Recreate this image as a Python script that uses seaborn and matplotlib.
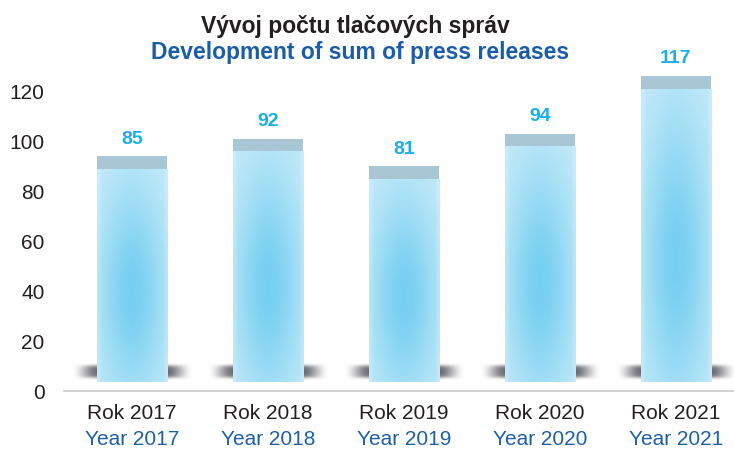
import matplotlib

matplotlib.use("Agg")

import matplotlib.pyplot as plt
import numpy as np
import pandas as pd
import seaborn as sns
from matplotlib.colors import to_rgb

# data
rok_labels = ["Rok 2017", "Rok 2018", "Rok 2019", "Rok 2020", "Rok 2021"]
year_labels = ["Year 2017", "Year 2018", "Year 2019", "Year 2020", "Year 2021"]
press_releases = [85, 92, 81, 94, 117]

sns.set_theme(style="white")
plt.rcParams["font.family"] = ["Liberation Sans", "DejaVu Sans"]

BASE = 3.6   # bars float slightly above the axis in the original
CAP = 5.0    # grey lid on top of each bar
BAR_LIGHT = np.array(to_rgb("#c8ebf9"))
BAR_CORE = np.array(to_rgb("#62c8ef"))
SHADOW = to_rgb("#5a5a60")


def _bar_gradient(n_x: int = 60, n_y: int = 120) -> np.ndarray:
    u = np.linspace(-1, 1, n_x)
    t = np.linspace(0, 1, n_y)
    uu, tt = np.meshgrid(u, t)
    weight = 0.8 * np.exp(-(uu / 0.95) ** 2 - ((tt - 0.42) / 0.5) ** 2)
    weight -= 0.1 * (np.abs(uu) > 0.92)
    weight = np.clip(weight, 0, 1)[..., None]
    return BAR_LIGHT * (1 - weight) + BAR_CORE * weight


def _shadow(half_width: float, bar_half: float, n_x: int = 120, n_y: int = 40) -> np.ndarray:
    dx = np.abs(np.linspace(-half_width, half_width, n_x))
    y = np.linspace(-1, 1, n_y)
    a_x = np.clip((half_width - dx) / (half_width - bar_half), 0, 1)
    a_x = a_x * a_x * (3 - 2 * a_x)
    a_y = np.exp(-(y / 0.62) ** 4)
    alpha = 0.9 * a_y[:, None] * a_x[None, :]
    img = np.zeros((n_y, n_x, 4))
    img[..., :3] = SHADOW
    img[..., 3] = alpha
    return img


df = pd.DataFrame({"rok": rok_labels, "count": press_releases})

fig = plt.figure(figsize=(7.34, 4.52), dpi=100)
ax = fig.add_axes([64 / 734, 1 - 392 / 452, 669 / 734, 331 / 452])

sns.barplot(data=df, x="rok", y="count", width=0.52, color="#c8ebf9",
            saturation=1, errorbar=None, ax=ax, zorder=2)

gradient = _bar_gradient()
shadow_img = _shadow(0.45, 0.25)
for i, patch in enumerate(list(ax.patches)):
    x0, w, h = patch.get_x(), patch.get_width(), patch.get_height()
    cx = x0 + w / 2
    patch.set_y(BASE)
    patch.set_linewidth(0)
    ax.imshow(shadow_img, extent=[cx - 0.45, cx + 0.45, 3.4, 11.6],
              origin="lower", aspect="auto", zorder=1, interpolation="bilinear")
    im = ax.imshow(gradient, extent=[x0, x0 + w, BASE, BASE + h],
                   origin="lower", aspect="auto", zorder=3, interpolation="bilinear")
    im.set_clip_path(patch)
    ax.bar(cx, CAP, width=w, bottom=BASE + h, color="#a9c6d5", linewidth=0, zorder=4)
    ax.annotate(str(press_releases[i]), xy=(cx, BASE + h + CAP), xytext=(0, 7),
                textcoords="offset points", ha="center", va="bottom",
                fontsize=14, fontweight="bold", color="#1aaeea")
    ax.annotate(year_labels[i], xy=(cx, 0), xycoords=ax.get_xaxis_transform(),
                xytext=(0, -34.5), textcoords="offset points", ha="center", va="center",
                fontsize=15, color="#1f5fa8", annotation_clip=False)

ax.set_xlim(-0.5, 4.42)
ax.set_ylim(0, 132)
ax.set_yticks(range(0, 121, 20))
ax.set_xlabel("")
ax.set_ylabel("")
ax.tick_params(axis="both", length=0, labelsize=15, labelcolor="#231f20")
ax.tick_params(axis="y", pad=14)
ax.tick_params(axis="x", pad=9)

for side in ["top", "right", "left"]:
    ax.spines[side].set_visible(False)
ax.spines["bottom"].set_color("#c8c8c8")
ax.spines["bottom"].set_linewidth(1.2)

fig.text(355 / 734, 1 - 27 / 452, "Vývoj počtu tlačových správ", ha="center", va="center",
         fontsize=16.5, fontweight="bold", color="#231f20")
fig.text(360 / 734, 1 - 53 / 452, "Development of sum of press releases", ha="center",
         va="center", fontsize=16.5, fontweight="bold", color="#1a5da6")

fig.savefig("out.png", dpi=100)
